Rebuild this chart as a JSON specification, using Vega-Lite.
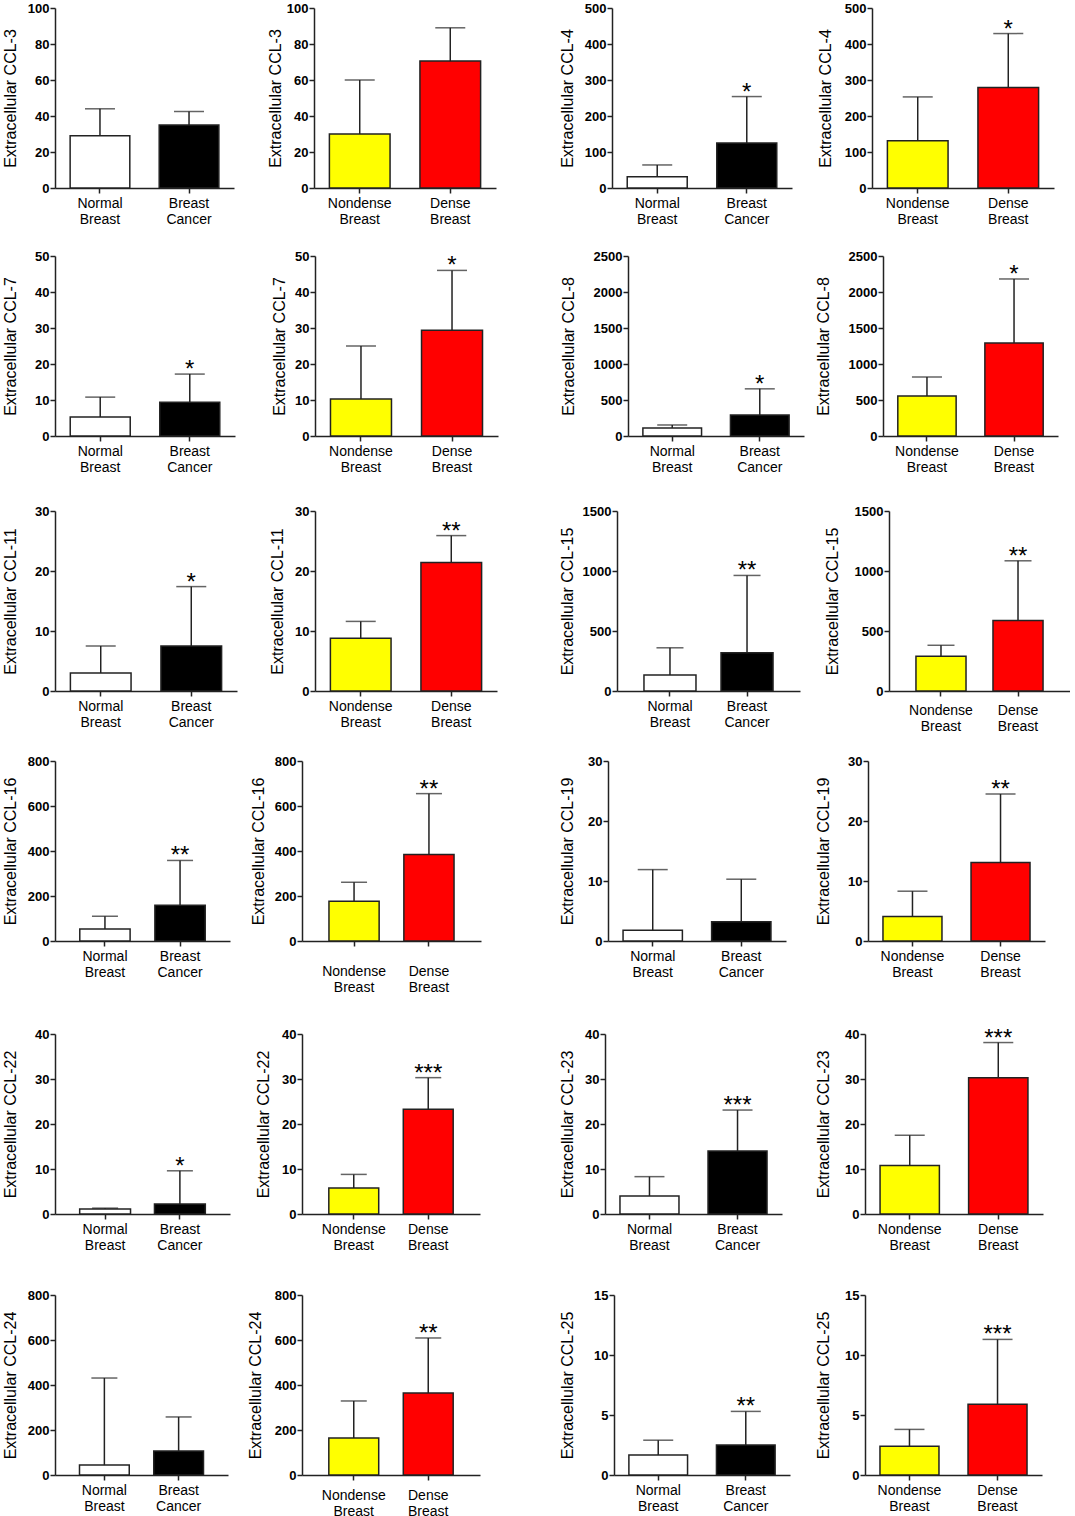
{
"$schema":"https://vega.github.io/schema/vega-lite/v6.json",
"padding":{"left":2,"top":2,"right":0,"bottom":0},
"background":"white",
"datasets":{"d":[
{"p":1,"group":"Normal Breast","mean":29,"upper":44,"sig":""},
{"p":1,"group":"Breast Cancer","mean":35,"upper":42.5,"sig":""},
{"p":2,"group":"Nondense Breast","mean":30,"upper":60,"sig":""},
{"p":2,"group":"Dense Breast","mean":70.5,"upper":89,"sig":""},
{"p":3,"group":"Normal Breast","mean":31,"upper":64,"sig":""},
{"p":3,"group":"Breast Cancer","mean":125,"upper":254,"sig":"*"},
{"p":4,"group":"Nondense Breast","mean":131,"upper":253,"sig":""},
{"p":4,"group":"Dense Breast","mean":279,"upper":429,"sig":"*"},
{"p":5,"group":"Normal Breast","mean":5.3,"upper":10.8,"sig":""},
{"p":5,"group":"Breast Cancer","mean":9.4,"upper":17.2,"sig":"*"},
{"p":6,"group":"Nondense Breast","mean":10.3,"upper":25,"sig":""},
{"p":6,"group":"Dense Breast","mean":29.4,"upper":46,"sig":"*"},
{"p":7,"group":"Normal Breast","mean":111,"upper":153,"sig":""},
{"p":7,"group":"Breast Cancer","mean":292,"upper":655,"sig":"*"},
{"p":8,"group":"Nondense Breast","mean":556,"upper":819,"sig":""},
{"p":8,"group":"Dense Breast","mean":1292,"upper":2181,"sig":"*"},
{"p":9,"group":"Normal Breast","mean":3.0,"upper":7.5,"sig":""},
{"p":9,"group":"Breast Cancer","mean":7.5,"upper":17.4,"sig":"*"},
{"p":10,"group":"Nondense Breast","mean":8.8,"upper":11.6,"sig":""},
{"p":10,"group":"Dense Breast","mean":21.4,"upper":25.9,"sig":"**"},
{"p":11,"group":"Normal Breast","mean":133,"upper":360,"sig":""},
{"p":11,"group":"Breast Cancer","mean":318,"upper":963,"sig":"**"},
{"p":12,"group":"Nondense Breast","mean":290,"upper":381,"sig":""},
{"p":12,"group":"Dense Breast","mean":588,"upper":1085,"sig":"**"},
{"p":13,"group":"Normal Breast","mean":53,"upper":110,"sig":""},
{"p":13,"group":"Breast Cancer","mean":159,"upper":358,"sig":"**"},
{"p":14,"group":"Nondense Breast","mean":177,"upper":261,"sig":""},
{"p":14,"group":"Dense Breast","mean":385,"upper":655,"sig":"**"},
{"p":15,"group":"Normal Breast","mean":1.8,"upper":11.9,"sig":""},
{"p":15,"group":"Breast Cancer","mean":3.2,"upper":10.3,"sig":""},
{"p":16,"group":"Nondense Breast","mean":4.1,"upper":8.3,"sig":""},
{"p":16,"group":"Dense Breast","mean":13.1,"upper":24.5,"sig":"**"},
{"p":17,"group":"Normal Breast","mean":1.1,"upper":1.3,"sig":""},
{"p":17,"group":"Breast Cancer","mean":2.2,"upper":9.6,"sig":"*"},
{"p":18,"group":"Nondense Breast","mean":5.8,"upper":8.8,"sig":""},
{"p":18,"group":"Dense Breast","mean":23.3,"upper":30.3,"sig":"***"},
{"p":19,"group":"Normal Breast","mean":4.0,"upper":8.3,"sig":""},
{"p":19,"group":"Breast Cancer","mean":14.0,"upper":23.1,"sig":"***"},
{"p":20,"group":"Nondense Breast","mean":10.8,"upper":17.5,"sig":""},
{"p":20,"group":"Dense Breast","mean":30.3,"upper":38.1,"sig":"***"},
{"p":21,"group":"Normal Breast","mean":44,"upper":431,"sig":""},
{"p":21,"group":"Breast Cancer","mean":107,"upper":258,"sig":""},
{"p":22,"group":"Nondense Breast","mean":164,"upper":329,"sig":""},
{"p":22,"group":"Dense Breast","mean":364,"upper":609,"sig":"**"},
{"p":23,"group":"Normal Breast","mean":1.66,"upper":2.9,"sig":""},
{"p":23,"group":"Breast Cancer","mean":2.5,"upper":5.3,"sig":"**"},
{"p":24,"group":"Nondense Breast","mean":2.4,"upper":3.8,"sig":""},
{"p":24,"group":"Dense Breast","mean":5.9,"upper":11.3,"sig":"***"}
]},
"columns":1,"align":"none","spacing":24,
"concat":[
{"spacing":63,"hconcat":[
 {"spacing":33,"hconcat":[
  {"width":179,"height":180,"data":{"name":"d"},"transform":[{"filter":"datum.p == 1"}],
   "encoding":{"x":{"field":"group","type":"nominal","sort":null,"title":null,"scale":{"paddingInner":0.33,"paddingOuter":0.17},"axis":{"labelExpr":"split(datum.value, ' ')"}},
    "y":{"field":"mean","type":"quantitative","scale":{"domain":[0,100]},"axis":{"values":[0,20,40,60,80,100],"title":"Extracellular CCL-3","titlePadding":9}}},
   "layer":[
    {"mark":{"type":"bar","stroke":"#222","strokeWidth":1.5},"encoding":{"color":{"field":"group","type":"nominal","scale":{"domain":["Normal Breast","Breast Cancer","Nondense Breast","Dense Breast"],"range":["#ffffff","#000000","#ffff00","#ff0000"]},"legend":null}}},
    {"mark":{"type":"rule","color":"#222","strokeWidth":1.5},"encoding":{"y2":{"field":"upper"}}},
    {"mark":{"type":"tick","color":"#222","thickness":1.5,"size":30},"encoding":{"y":{"field":"upper","type":"quantitative"}}},
    {"mark":{"type":"text","baseline":"alphabetic","dy":3,"fontSize":24,"color":"#000"},"encoding":{"y":{"field":"upper","type":"quantitative"},"text":{"field":"sig"}}}
   ]},
  {"width":182,"height":180,"data":{"name":"d"},"transform":[{"filter":"datum.p == 2"}],
   "encoding":{"x":{"field":"group","type":"nominal","sort":null,"title":null,"scale":{"paddingInner":0.33,"paddingOuter":0.17},"axis":{"labelExpr":"split(datum.value, ' ')"}},
    "y":{"field":"mean","type":"quantitative","scale":{"domain":[0,100]},"axis":{"values":[0,20,40,60,80,100],"title":"Extracellular CCL-3","titlePadding":3}}},
   "layer":[
    {"mark":{"type":"bar","stroke":"#222","strokeWidth":1.5},"encoding":{"color":{"field":"group","type":"nominal","scale":{"domain":["Normal Breast","Breast Cancer","Nondense Breast","Dense Breast"],"range":["#ffffff","#000000","#ffff00","#ff0000"]},"legend":null}}},
    {"mark":{"type":"rule","color":"#222","strokeWidth":1.5},"encoding":{"y2":{"field":"upper"}}},
    {"mark":{"type":"tick","color":"#222","thickness":1.5,"size":30},"encoding":{"y":{"field":"upper","type":"quantitative"}}},
    {"mark":{"type":"text","baseline":"alphabetic","dy":3,"fontSize":24,"color":"#000"},"encoding":{"y":{"field":"upper","type":"quantitative"},"text":{"field":"sig"}}}
   ]}
 ]},
 {"spacing":25,"hconcat":[
  {"width":180,"height":180,"data":{"name":"d"},"transform":[{"filter":"datum.p == 3"}],
   "encoding":{"x":{"field":"group","type":"nominal","sort":null,"title":null,"scale":{"paddingInner":0.33,"paddingOuter":0.17},"axis":{"labelExpr":"split(datum.value, ' ')"}},
    "y":{"field":"mean","type":"quantitative","scale":{"domain":[0,500]},"axis":{"values":[0,100,200,300,400,500],"title":"Extracellular CCL-4","titlePadding":9}}},
   "layer":[
    {"mark":{"type":"bar","stroke":"#222","strokeWidth":1.5},"encoding":{"color":{"field":"group","type":"nominal","scale":{"domain":["Normal Breast","Breast Cancer","Nondense Breast","Dense Breast"],"range":["#ffffff","#000000","#ffff00","#ff0000"]},"legend":null}}},
    {"mark":{"type":"rule","color":"#222","strokeWidth":1.5},"encoding":{"y2":{"field":"upper"}}},
    {"mark":{"type":"tick","color":"#222","thickness":1.5,"size":30},"encoding":{"y":{"field":"upper","type":"quantitative"}}},
    {"mark":{"type":"text","baseline":"alphabetic","dy":3,"fontSize":24,"color":"#000"},"encoding":{"y":{"field":"upper","type":"quantitative"},"text":{"field":"sig"}}}
   ]},
  {"width":182,"height":180,"data":{"name":"d"},"transform":[{"filter":"datum.p == 4"}],
   "encoding":{"x":{"field":"group","type":"nominal","sort":null,"title":null,"scale":{"paddingInner":0.33,"paddingOuter":0.17},"axis":{"labelExpr":"split(datum.value, ' ')"}},
    "y":{"field":"mean","type":"quantitative","scale":{"domain":[0,500]},"axis":{"values":[0,100,200,300,400,500],"title":"Extracellular CCL-4","titlePadding":11}}},
   "layer":[
    {"mark":{"type":"bar","stroke":"#222","strokeWidth":1.5},"encoding":{"color":{"field":"group","type":"nominal","scale":{"domain":["Normal Breast","Breast Cancer","Nondense Breast","Dense Breast"],"range":["#ffffff","#000000","#ffff00","#ff0000"]},"legend":null}}},
    {"mark":{"type":"rule","color":"#222","strokeWidth":1.5},"encoding":{"y2":{"field":"upper"}}},
    {"mark":{"type":"tick","color":"#222","thickness":1.5,"size":30},"encoding":{"y":{"field":"upper","type":"quantitative"}}},
    {"mark":{"type":"text","baseline":"alphabetic","dy":3,"fontSize":24,"color":"#000"},"encoding":{"y":{"field":"upper","type":"quantitative"},"text":{"field":"sig"}}}
   ]}
 ]}
]},
{"columns":1,"align":"none","spacing":31,"concat":[
{"spacing":62,"hconcat":[
 {"spacing":36,"hconcat":[
  {"width":180,"height":180,"data":{"name":"d"},"transform":[{"filter":"datum.p == 5"}],
   "encoding":{"x":{"field":"group","type":"nominal","sort":null,"title":null,"scale":{"paddingInner":0.33,"paddingOuter":0.17},"axis":{"labelExpr":"split(datum.value, ' ')"}},
    "y":{"field":"mean","type":"quantitative","scale":{"domain":[0,50]},"axis":{"values":[0,10,20,30,40,50],"title":"Extracellular CCL-7","titlePadding":16}}},
   "layer":[
    {"mark":{"type":"bar","stroke":"#222","strokeWidth":1.5},"encoding":{"color":{"field":"group","type":"nominal","scale":{"domain":["Normal Breast","Breast Cancer","Nondense Breast","Dense Breast"],"range":["#ffffff","#000000","#ffff00","#ff0000"]},"legend":null}}},
    {"mark":{"type":"rule","color":"#222","strokeWidth":1.5},"encoding":{"y2":{"field":"upper"}}},
    {"mark":{"type":"tick","color":"#222","thickness":1.5,"size":30},"encoding":{"y":{"field":"upper","type":"quantitative"}}},
    {"mark":{"type":"text","baseline":"alphabetic","dy":3,"fontSize":24,"color":"#000"},"encoding":{"y":{"field":"upper","type":"quantitative"},"text":{"field":"sig"}}}
   ]},
  {"width":183,"height":180,"data":{"name":"d"},"transform":[{"filter":"datum.p == 6"}],
   "encoding":{"x":{"field":"group","type":"nominal","sort":null,"title":null,"scale":{"paddingInner":0.33,"paddingOuter":0.17},"axis":{"labelExpr":"split(datum.value, ' ')"}},
    "y":{"field":"mean","type":"quantitative","scale":{"domain":[0,50]},"axis":{"values":[0,10,20,30,40,50],"title":"Extracellular CCL-7","titlePadding":7}}},
   "layer":[
    {"mark":{"type":"bar","stroke":"#222","strokeWidth":1.5},"encoding":{"color":{"field":"group","type":"nominal","scale":{"domain":["Normal Breast","Breast Cancer","Nondense Breast","Dense Breast"],"range":["#ffffff","#000000","#ffff00","#ff0000"]},"legend":null}}},
    {"mark":{"type":"rule","color":"#222","strokeWidth":1.5},"encoding":{"y2":{"field":"upper"}}},
    {"mark":{"type":"tick","color":"#222","thickness":1.5,"size":30},"encoding":{"y":{"field":"upper","type":"quantitative"}}},
    {"mark":{"type":"text","baseline":"alphabetic","dy":3,"fontSize":24,"color":"#000"},"encoding":{"y":{"field":"upper","type":"quantitative"},"text":{"field":"sig"}}}
   ]}
 ]},
 {"spacing":11,"hconcat":[
  {"width":176,"height":180,"data":{"name":"d"},"transform":[{"filter":"datum.p == 7"}],
   "encoding":{"x":{"field":"group","type":"nominal","sort":null,"title":null,"scale":{"paddingInner":0.33,"paddingOuter":0.17},"axis":{"labelExpr":"split(datum.value, ' ')"}},
    "y":{"field":"mean","type":"quantitative","scale":{"domain":[0,2500]},"axis":{"values":[0,500,1000,1500,2000,2500],"format":"d","title":"Extracellular CCL-8","titlePadding":17}}},
   "layer":[
    {"mark":{"type":"bar","stroke":"#222","strokeWidth":1.5},"encoding":{"color":{"field":"group","type":"nominal","scale":{"domain":["Normal Breast","Breast Cancer","Nondense Breast","Dense Breast"],"range":["#ffffff","#000000","#ffff00","#ff0000"]},"legend":null}}},
    {"mark":{"type":"rule","color":"#222","strokeWidth":1.5},"encoding":{"y2":{"field":"upper"}}},
    {"mark":{"type":"tick","color":"#222","thickness":1.5,"size":30},"encoding":{"y":{"field":"upper","type":"quantitative"}}},
    {"mark":{"type":"text","baseline":"alphabetic","dy":3,"fontSize":24,"color":"#000"},"encoding":{"y":{"field":"upper","type":"quantitative"},"text":{"field":"sig"}}}
   ]},
  {"width":175,"height":180,"data":{"name":"d"},"transform":[{"filter":"datum.p == 8"}],
   "encoding":{"x":{"field":"group","type":"nominal","sort":null,"title":null,"scale":{"paddingInner":0.33,"paddingOuter":0.17},"axis":{"labelExpr":"split(datum.value, ' ')"}},
    "y":{"field":"mean","type":"quantitative","scale":{"domain":[0,2500]},"axis":{"values":[0,500,1000,1500,2000,2500],"format":"d","title":"Extracellular CCL-8","titlePadding":17}}},
   "layer":[
    {"mark":{"type":"bar","stroke":"#222","strokeWidth":1.5},"encoding":{"color":{"field":"group","type":"nominal","scale":{"domain":["Normal Breast","Breast Cancer","Nondense Breast","Dense Breast"],"range":["#ffffff","#000000","#ffff00","#ff0000"]},"legend":null}}},
    {"mark":{"type":"rule","color":"#222","strokeWidth":1.5},"encoding":{"y2":{"field":"upper"}}},
    {"mark":{"type":"tick","color":"#222","thickness":1.5,"size":30},"encoding":{"y":{"field":"upper","type":"quantitative"}}},
    {"mark":{"type":"text","baseline":"alphabetic","dy":3,"fontSize":24,"color":"#000"},"encoding":{"y":{"field":"upper","type":"quantitative"},"text":{"field":"sig"}}}
   ]}
 ]}
]},
{"columns":1,"align":"none","spacing":22,"concat":[
{"spacing":62,"hconcat":[
 {"spacing":32,"hconcat":[
  {"width":182,"height":180,"data":{"name":"d"},"transform":[{"filter":"datum.p == 9"}],
   "encoding":{"x":{"field":"group","type":"nominal","sort":null,"title":null,"scale":{"paddingInner":0.33,"paddingOuter":0.17},"axis":{"labelExpr":"split(datum.value, ' ')"}},
    "y":{"field":"mean","type":"quantitative","scale":{"domain":[0,30]},"axis":{"values":[0,10,20,30],"title":"Extracellular CCL-11","titlePadding":16}}},
   "layer":[
    {"mark":{"type":"bar","stroke":"#222","strokeWidth":1.5},"encoding":{"color":{"field":"group","type":"nominal","scale":{"domain":["Normal Breast","Breast Cancer","Nondense Breast","Dense Breast"],"range":["#ffffff","#000000","#ffff00","#ff0000"]},"legend":null}}},
    {"mark":{"type":"rule","color":"#222","strokeWidth":1.5},"encoding":{"y2":{"field":"upper"}}},
    {"mark":{"type":"tick","color":"#222","thickness":1.5,"size":30},"encoding":{"y":{"field":"upper","type":"quantitative"}}},
    {"mark":{"type":"text","baseline":"alphabetic","dy":3,"fontSize":24,"color":"#000"},"encoding":{"y":{"field":"upper","type":"quantitative"},"text":{"field":"sig"}}}
   ]},
  {"width":182,"height":180,"data":{"name":"d"},"transform":[{"filter":"datum.p == 10"}],
   "encoding":{"x":{"field":"group","type":"nominal","sort":null,"title":null,"scale":{"paddingInner":0.33,"paddingOuter":0.17},"axis":{"labelExpr":"split(datum.value, ' ')"}},
    "y":{"field":"mean","type":"quantitative","scale":{"domain":[0,30]},"axis":{"values":[0,10,20,30],"title":"Extracellular CCL-11","titlePadding":9}}},
   "layer":[
    {"mark":{"type":"bar","stroke":"#222","strokeWidth":1.5},"encoding":{"color":{"field":"group","type":"nominal","scale":{"domain":["Normal Breast","Breast Cancer","Nondense Breast","Dense Breast"],"range":["#ffffff","#000000","#ffff00","#ff0000"]},"legend":null}}},
    {"mark":{"type":"rule","color":"#222","strokeWidth":1.5},"encoding":{"y2":{"field":"upper"}}},
    {"mark":{"type":"tick","color":"#222","thickness":1.5,"size":30},"encoding":{"y":{"field":"upper","type":"quantitative"}}},
    {"mark":{"type":"text","baseline":"alphabetic","dy":3,"fontSize":24,"color":"#000"},"encoding":{"y":{"field":"upper","type":"quantitative"},"text":{"field":"sig"}}}
   ]}
 ]},
 {"spacing":24,"hconcat":[
  {"width":183,"height":180,"data":{"name":"d"},"transform":[{"filter":"datum.p == 11"}],
   "encoding":{"x":{"field":"group","type":"nominal","sort":null,"title":null,"scale":{"paddingInner":0.325,"paddingOuter":0.35},"axis":{"labelExpr":"split(datum.value, ' ')"}},
    "y":{"field":"mean","type":"quantitative","scale":{"domain":[0,1500]},"axis":{"values":[0,500,1000,1500],"format":"d","title":"Extracellular CCL-15","titlePadding":7}}},
   "layer":[
    {"mark":{"type":"bar","stroke":"#222","strokeWidth":1.5},"encoding":{"color":{"field":"group","type":"nominal","scale":{"domain":["Normal Breast","Breast Cancer","Nondense Breast","Dense Breast"],"range":["#ffffff","#000000","#ffff00","#ff0000"]},"legend":null}}},
    {"mark":{"type":"rule","color":"#222","strokeWidth":1.5},"encoding":{"y2":{"field":"upper"}}},
    {"mark":{"type":"tick","color":"#222","thickness":1.5,"size":27},"encoding":{"y":{"field":"upper","type":"quantitative"}}},
    {"mark":{"type":"text","baseline":"alphabetic","dy":3,"fontSize":24,"color":"#000"},"encoding":{"y":{"field":"upper","type":"quantitative"},"text":{"field":"sig"}}}
   ]},
  {"width":181,"height":180,"data":{"name":"d"},"transform":[{"filter":"datum.p == 12"}],
   "encoding":{"x":{"field":"group","type":"nominal","sort":null,"title":null,"scale":{"paddingInner":0.35,"paddingOuter":0.35},"axis":{"labelExpr":"split(datum.value, ' ')","labelPadding":7}},
    "y":{"field":"mean","type":"quantitative","scale":{"domain":[0,1500]},"axis":{"values":[0,500,1000,1500],"format":"d","title":"Extracellular CCL-15","titlePadding":14}}},
   "layer":[
    {"mark":{"type":"bar","stroke":"#222","strokeWidth":1.5},"encoding":{"color":{"field":"group","type":"nominal","scale":{"domain":["Normal Breast","Breast Cancer","Nondense Breast","Dense Breast"],"range":["#ffffff","#000000","#ffff00","#ff0000"]},"legend":null}}},
    {"mark":{"type":"rule","color":"#222","strokeWidth":1.5},"encoding":{"y2":{"field":"upper"}}},
    {"mark":{"type":"tick","color":"#222","thickness":1.5,"size":27},"encoding":{"y":{"field":"upper","type":"quantitative"}}},
    {"mark":{"type":"text","baseline":"alphabetic","dy":3,"fontSize":24,"color":"#000"},"encoding":{"y":{"field":"upper","type":"quantitative"},"text":{"field":"sig"}}}
   ]}
 ]}
]},
{"columns":1,"align":"none","spacing":32,"concat":[
{"spacing":78,"hconcat":[
 {"spacing":20,"hconcat":[
  {"width":175,"height":180,"data":{"name":"d"},"transform":[{"filter":"datum.p == 13"}],
   "encoding":{"x":{"field":"group","type":"nominal","sort":null,"title":null,"scale":{"paddingInner":0.33,"paddingOuter":0.33},"axis":{"labelExpr":"split(datum.value, ' ')"}},
    "y":{"field":"mean","type":"quantitative","scale":{"domain":[0,800]},"axis":{"values":[0,200,400,600,800],"title":"Extracellular CCL-16","titlePadding":9}}},
   "layer":[
    {"mark":{"type":"bar","stroke":"#222","strokeWidth":1.5},"encoding":{"color":{"field":"group","type":"nominal","scale":{"domain":["Normal Breast","Breast Cancer","Nondense Breast","Dense Breast"],"range":["#ffffff","#000000","#ffff00","#ff0000"]},"legend":null}}},
    {"mark":{"type":"rule","color":"#222","strokeWidth":1.5},"encoding":{"y2":{"field":"upper"}}},
    {"mark":{"type":"tick","color":"#222","thickness":1.5,"size":26},"encoding":{"y":{"field":"upper","type":"quantitative"}}},
    {"mark":{"type":"text","baseline":"alphabetic","dy":3,"fontSize":24,"color":"#000"},"encoding":{"y":{"field":"upper","type":"quantitative"},"text":{"field":"sig"}}}
   ]},
  {"width":179,"height":180,"data":{"name":"d"},"transform":[{"filter":"datum.p == 14"}],
   "encoding":{"x":{"field":"group","type":"nominal","sort":null,"title":null,"scale":{"paddingInner":0.33,"paddingOuter":0.36},"axis":{"labelExpr":"split(datum.value, ' ')","labelPadding":18}},
    "y":{"field":"mean","type":"quantitative","scale":{"domain":[0,800]},"axis":{"values":[0,200,400,600,800],"title":"Extracellular CCL-16","titlePadding":8}}},
   "layer":[
    {"mark":{"type":"bar","stroke":"#222","strokeWidth":1.5},"encoding":{"color":{"field":"group","type":"nominal","scale":{"domain":["Normal Breast","Breast Cancer","Nondense Breast","Dense Breast"],"range":["#ffffff","#000000","#ffff00","#ff0000"]},"legend":null}}},
    {"mark":{"type":"rule","color":"#222","strokeWidth":1.5},"encoding":{"y2":{"field":"upper"}}},
    {"mark":{"type":"tick","color":"#222","thickness":1.5,"size":26},"encoding":{"y":{"field":"upper","type":"quantitative"}}},
    {"mark":{"type":"text","baseline":"alphabetic","dy":3,"fontSize":24,"color":"#000"},"encoding":{"y":{"field":"upper","type":"quantitative"},"text":{"field":"sig"}}}
   ]}
 ]},
 {"spacing":29,"hconcat":[
  {"width":178,"height":180,"data":{"name":"d"},"transform":[{"filter":"datum.p == 15"}],
   "encoding":{"x":{"field":"group","type":"nominal","sort":null,"title":null,"scale":{"paddingInner":0.33,"paddingOuter":0.17},"axis":{"labelExpr":"split(datum.value, ' ')"}},
    "y":{"field":"mean","type":"quantitative","scale":{"domain":[0,30]},"axis":{"values":[0,10,20,30],"title":"Extracellular CCL-19","titlePadding":12}}},
   "layer":[
    {"mark":{"type":"bar","stroke":"#222","strokeWidth":1.5},"encoding":{"color":{"field":"group","type":"nominal","scale":{"domain":["Normal Breast","Breast Cancer","Nondense Breast","Dense Breast"],"range":["#ffffff","#000000","#ffff00","#ff0000"]},"legend":null}}},
    {"mark":{"type":"rule","color":"#222","strokeWidth":1.5},"encoding":{"y2":{"field":"upper"}}},
    {"mark":{"type":"tick","color":"#222","thickness":1.5,"size":30},"encoding":{"y":{"field":"upper","type":"quantitative"}}},
    {"mark":{"type":"text","baseline":"alphabetic","dy":3,"fontSize":24,"color":"#000"},"encoding":{"y":{"field":"upper","type":"quantitative"},"text":{"field":"sig"}}}
   ]},
  {"width":177,"height":180,"data":{"name":"d"},"transform":[{"filter":"datum.p == 16"}],
   "encoding":{"x":{"field":"group","type":"nominal","sort":null,"title":null,"scale":{"paddingInner":0.33,"paddingOuter":0.17},"axis":{"labelExpr":"split(datum.value, ' ')"}},
    "y":{"field":"mean","type":"quantitative","scale":{"domain":[0,30]},"axis":{"values":[0,10,20,30],"title":"Extracellular CCL-19","titlePadding":16}}},
   "layer":[
    {"mark":{"type":"bar","stroke":"#222","strokeWidth":1.5},"encoding":{"color":{"field":"group","type":"nominal","scale":{"domain":["Normal Breast","Breast Cancer","Nondense Breast","Dense Breast"],"range":["#ffffff","#000000","#ffff00","#ff0000"]},"legend":null}}},
    {"mark":{"type":"rule","color":"#222","strokeWidth":1.5},"encoding":{"y2":{"field":"upper"}}},
    {"mark":{"type":"tick","color":"#222","thickness":1.5,"size":30},"encoding":{"y":{"field":"upper","type":"quantitative"}}},
    {"mark":{"type":"text","baseline":"alphabetic","dy":3,"fontSize":24,"color":"#000"},"encoding":{"y":{"field":"upper","type":"quantitative"},"text":{"field":"sig"}}}
   ]}
 ]}
]},
{"columns":1,"align":"none","spacing":37,"concat":[
{"spacing":79,"hconcat":[
 {"spacing":25,"hconcat":[
  {"width":175,"height":180,"data":{"name":"d"},"transform":[{"filter":"datum.p == 17"}],
   "encoding":{"x":{"field":"group","type":"nominal","sort":null,"title":null,"scale":{"paddingInner":0.32,"paddingOuter":0.33},"axis":{"labelExpr":"split(datum.value, ' ')"}},
    "y":{"field":"mean","type":"quantitative","scale":{"domain":[0,40]},"axis":{"values":[0,10,20,30,40],"title":"Extracellular CCL-22","titlePadding":16}}},
   "layer":[
    {"mark":{"type":"bar","stroke":"#222","strokeWidth":1.5},"encoding":{"color":{"field":"group","type":"nominal","scale":{"domain":["Normal Breast","Breast Cancer","Nondense Breast","Dense Breast"],"range":["#ffffff","#000000","#ffff00","#ff0000"]},"legend":null}}},
    {"mark":{"type":"rule","color":"#222","strokeWidth":1.5},"encoding":{"y2":{"field":"upper"}}},
    {"mark":{"type":"tick","color":"#222","thickness":1.5,"size":26},"encoding":{"y":{"field":"upper","type":"quantitative"}}},
    {"mark":{"type":"text","baseline":"alphabetic","dy":3,"fontSize":24,"color":"#000"},"encoding":{"y":{"field":"upper","type":"quantitative"},"text":{"field":"sig"}}}
   ]},
  {"width":178,"height":180,"data":{"name":"d"},"transform":[{"filter":"datum.p == 18"}],
   "encoding":{"x":{"field":"group","type":"nominal","sort":null,"title":null,"scale":{"paddingInner":0.33,"paddingOuter":0.36},"axis":{"labelExpr":"split(datum.value, ' ')"}},
    "y":{"field":"mean","type":"quantitative","scale":{"domain":[0,40]},"axis":{"values":[0,10,20,30,40],"title":"Extracellular CCL-22","titlePadding":10}}},
   "layer":[
    {"mark":{"type":"bar","stroke":"#222","strokeWidth":1.5},"encoding":{"color":{"field":"group","type":"nominal","scale":{"domain":["Normal Breast","Breast Cancer","Nondense Breast","Dense Breast"],"range":["#ffffff","#000000","#ffff00","#ff0000"]},"legend":null}}},
    {"mark":{"type":"rule","color":"#222","strokeWidth":1.5},"encoding":{"y2":{"field":"upper"}}},
    {"mark":{"type":"tick","color":"#222","thickness":1.5,"size":26},"encoding":{"y":{"field":"upper","type":"quantitative"}}},
    {"mark":{"type":"text","baseline":"alphabetic","dy":3,"fontSize":24,"color":"#000"},"encoding":{"y":{"field":"upper","type":"quantitative"},"text":{"field":"sig"}}}
   ]}
 ]},
 {"spacing":33,"hconcat":[
  {"width":177,"height":180,"data":{"name":"d"},"transform":[{"filter":"datum.p == 19"}],
   "encoding":{"x":{"field":"group","type":"nominal","sort":null,"title":null,"scale":{"paddingInner":0.33,"paddingOuter":0.17},"axis":{"labelExpr":"split(datum.value, ' ')"}},
    "y":{"field":"mean","type":"quantitative","scale":{"domain":[0,40]},"axis":{"values":[0,10,20,30,40],"title":"Extracellular CCL-23","titlePadding":9}}},
   "layer":[
    {"mark":{"type":"bar","stroke":"#222","strokeWidth":1.5},"encoding":{"color":{"field":"group","type":"nominal","scale":{"domain":["Normal Breast","Breast Cancer","Nondense Breast","Dense Breast"],"range":["#ffffff","#000000","#ffff00","#ff0000"]},"legend":null}}},
    {"mark":{"type":"rule","color":"#222","strokeWidth":1.5},"encoding":{"y2":{"field":"upper"}}},
    {"mark":{"type":"tick","color":"#222","thickness":1.5,"size":30},"encoding":{"y":{"field":"upper","type":"quantitative"}}},
    {"mark":{"type":"text","baseline":"alphabetic","dy":3,"fontSize":24,"color":"#000"},"encoding":{"y":{"field":"upper","type":"quantitative"},"text":{"field":"sig"}}}
   ]},
  {"width":178,"height":180,"data":{"name":"d"},"transform":[{"filter":"datum.p == 20"}],
   "encoding":{"x":{"field":"group","type":"nominal","sort":null,"title":null,"scale":{"paddingInner":0.33,"paddingOuter":0.17},"axis":{"labelExpr":"split(datum.value, ' ')"}},
    "y":{"field":"mean","type":"quantitative","scale":{"domain":[0,40]},"axis":{"values":[0,10,20,30,40],"title":"Extracellular CCL-23","titlePadding":13}}},
   "layer":[
    {"mark":{"type":"bar","stroke":"#222","strokeWidth":1.5},"encoding":{"color":{"field":"group","type":"nominal","scale":{"domain":["Normal Breast","Breast Cancer","Nondense Breast","Dense Breast"],"range":["#ffffff","#000000","#ffff00","#ff0000"]},"legend":null}}},
    {"mark":{"type":"rule","color":"#222","strokeWidth":1.5},"encoding":{"y2":{"field":"upper"}}},
    {"mark":{"type":"tick","color":"#222","thickness":1.5,"size":30},"encoding":{"y":{"field":"upper","type":"quantitative"}}},
    {"mark":{"type":"text","baseline":"alphabetic","dy":3,"fontSize":24,"color":"#000"},"encoding":{"y":{"field":"upper","type":"quantitative"},"text":{"field":"sig"}}}
   ]}
 ]}
]},
{"spacing":79,"hconcat":[
 {"spacing":19,"hconcat":[
  {"width":173,"height":180,"data":{"name":"d"},"transform":[{"filter":"datum.p == 21"}],
   "encoding":{"x":{"field":"group","type":"nominal","sort":null,"title":null,"scale":{"paddingInner":0.33,"paddingOuter":0.33},"axis":{"labelExpr":"split(datum.value, ' ')"}},
    "y":{"field":"mean","type":"quantitative","scale":{"domain":[0,800]},"axis":{"values":[0,200,400,600,800],"title":"Extracellular CCL-24","titlePadding":9}}},
   "layer":[
    {"mark":{"type":"bar","stroke":"#222","strokeWidth":1.5},"encoding":{"color":{"field":"group","type":"nominal","scale":{"domain":["Normal Breast","Breast Cancer","Nondense Breast","Dense Breast"],"range":["#ffffff","#000000","#ffff00","#ff0000"]},"legend":null}}},
    {"mark":{"type":"rule","color":"#222","strokeWidth":1.5},"encoding":{"y2":{"field":"upper"}}},
    {"mark":{"type":"tick","color":"#222","thickness":1.5,"size":26},"encoding":{"y":{"field":"upper","type":"quantitative"}}},
    {"mark":{"type":"text","baseline":"alphabetic","dy":3,"fontSize":24,"color":"#000"},"encoding":{"y":{"field":"upper","type":"quantitative"},"text":{"field":"sig"}}}
   ]},
  {"width":178,"height":180,"data":{"name":"d"},"transform":[{"filter":"datum.p == 22"}],
   "encoding":{"x":{"field":"group","type":"nominal","sort":null,"title":null,"scale":{"paddingInner":0.33,"paddingOuter":0.36},"axis":{"labelExpr":"split(datum.value, ' ')","labelPadding":8}},
    "y":{"field":"mean","type":"quantitative","scale":{"domain":[0,800]},"axis":{"values":[0,200,400,600,800],"title":"Extracellular CCL-24","titlePadding":11}}},
   "layer":[
    {"mark":{"type":"bar","stroke":"#222","strokeWidth":1.5},"encoding":{"color":{"field":"group","type":"nominal","scale":{"domain":["Normal Breast","Breast Cancer","Nondense Breast","Dense Breast"],"range":["#ffffff","#000000","#ffff00","#ff0000"]},"legend":null}}},
    {"mark":{"type":"rule","color":"#222","strokeWidth":1.5},"encoding":{"y2":{"field":"upper"}}},
    {"mark":{"type":"tick","color":"#222","thickness":1.5,"size":26},"encoding":{"y":{"field":"upper","type":"quantitative"}}},
    {"mark":{"type":"text","baseline":"alphabetic","dy":3,"fontSize":24,"color":"#000"},"encoding":{"y":{"field":"upper","type":"quantitative"},"text":{"field":"sig"}}}
   ]}
 ]},
 {"spacing":25,"hconcat":[
  {"width":176,"height":180,"data":{"name":"d"},"transform":[{"filter":"datum.p == 23"}],
   "encoding":{"x":{"field":"group","type":"nominal","sort":null,"title":null,"scale":{"paddingInner":0.33,"paddingOuter":0.17},"axis":{"labelExpr":"split(datum.value, ' ')"}},
    "y":{"field":"mean","type":"quantitative","scale":{"domain":[0,15]},"axis":{"values":[0,5,10,15],"title":"Extracellular CCL-25","titlePadding":18}}},
   "layer":[
    {"mark":{"type":"bar","stroke":"#222","strokeWidth":1.5},"encoding":{"color":{"field":"group","type":"nominal","scale":{"domain":["Normal Breast","Breast Cancer","Nondense Breast","Dense Breast"],"range":["#ffffff","#000000","#ffff00","#ff0000"]},"legend":null}}},
    {"mark":{"type":"rule","color":"#222","strokeWidth":1.5},"encoding":{"y2":{"field":"upper"}}},
    {"mark":{"type":"tick","color":"#222","thickness":1.5,"size":30},"encoding":{"y":{"field":"upper","type":"quantitative"}}},
    {"mark":{"type":"text","baseline":"alphabetic","dy":3,"fontSize":24,"color":"#000"},"encoding":{"y":{"field":"upper","type":"quantitative"},"text":{"field":"sig"}}}
   ]},
  {"width":177,"height":180,"data":{"name":"d"},"transform":[{"filter":"datum.p == 24"}],
   "encoding":{"x":{"field":"group","type":"nominal","sort":null,"title":null,"scale":{"paddingInner":0.33,"paddingOuter":0.17},"axis":{"labelExpr":"split(datum.value, ' ')"}},
    "y":{"field":"mean","type":"quantitative","scale":{"domain":[0,15]},"axis":{"values":[0,5,10,15],"title":"Extracellular CCL-25","titlePadding":13}}},
   "layer":[
    {"mark":{"type":"bar","stroke":"#222","strokeWidth":1.5},"encoding":{"color":{"field":"group","type":"nominal","scale":{"domain":["Normal Breast","Breast Cancer","Nondense Breast","Dense Breast"],"range":["#ffffff","#000000","#ffff00","#ff0000"]},"legend":null}}},
    {"mark":{"type":"rule","color":"#222","strokeWidth":1.5},"encoding":{"y2":{"field":"upper"}}},
    {"mark":{"type":"tick","color":"#222","thickness":1.5,"size":30},"encoding":{"y":{"field":"upper","type":"quantitative"}}},
    {"mark":{"type":"text","baseline":"alphabetic","dy":3,"fontSize":24,"color":"#000"},"encoding":{"y":{"field":"upper","type":"quantitative"},"text":{"field":"sig"}}}
   ]}
 ]}
]}
]}
]}
]}
]}
],
"config":{
 "view":{"stroke":null},
 "font":"Liberation Sans",
 "axis":{"grid":false,"domainColor":"#222","tickColor":"#222","domainWidth":1.5,"tickWidth":1.5,"labelColor":"#000","titleColor":"#000","labelFont":"Liberation Sans","titleFont":"Liberation Sans","tickSize":5},
 "axisY":{"labelFontWeight":"bold","labelFontSize":13,"labelPadding":1,"titleFontWeight":"normal","titleFontSize":16},
 "axisX":{"labelFontSize":14,"labelAngle":0,"labelLineHeight":16,"labelPadding":3}
}
}
